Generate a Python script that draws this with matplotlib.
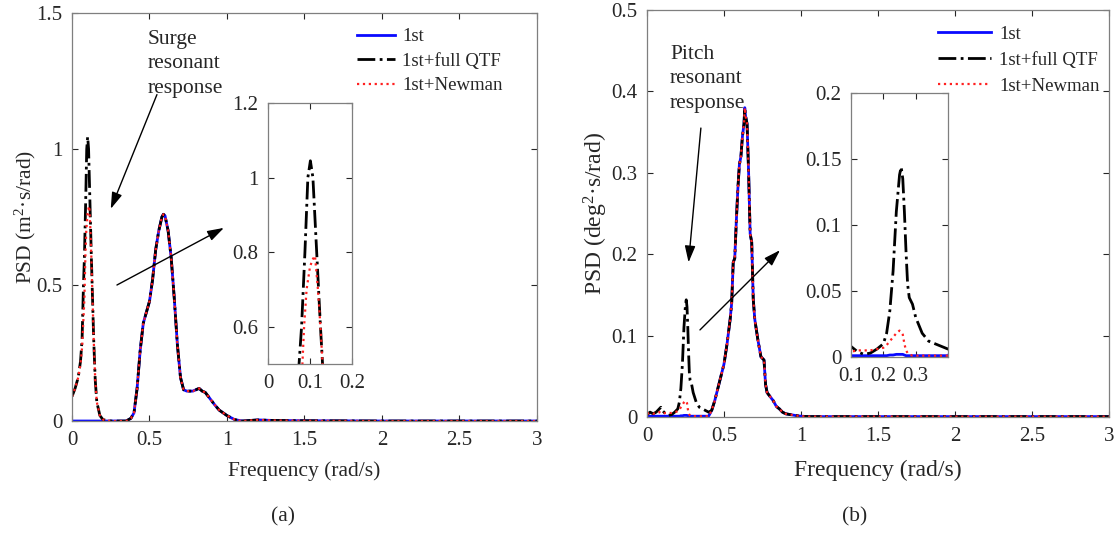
import matplotlib

matplotlib.use("Agg")
import matplotlib.pyplot as plt
import numpy as np

# ---- surge (panel a) ----
surge_low_freq_qtf = [0.0, 0.02, 0.04, 0.055, 0.065, 0.074, 0.08, 0.088, 0.095, 0.101,
                      0.107, 0.116, 0.125, 0.13, 0.14, 0.15, 0.16, 0.18, 0.20, 0.25]
surge_low_qtf = [0.09, 0.12, 0.16, 0.22, 0.30, 0.50, 0.60, 0.80, 1.00, 1.045,
                 1.00, 0.80, 0.60, 0.50, 0.30, 0.15, 0.07, 0.02, 0.005, 0.0]
surge_low_freq_newman = [0.0, 0.02, 0.04, 0.055, 0.065, 0.08, 0.086, 0.092, 0.10, 0.106,
                         0.112, 0.119, 0.125, 0.13, 0.14, 0.15, 0.16, 0.18, 0.20, 0.25]
surge_low_newman = [0.09, 0.12, 0.16, 0.21, 0.27, 0.45, 0.60, 0.70, 0.76, 0.78,
                    0.79, 0.70, 0.60, 0.50, 0.30, 0.15, 0.07, 0.02, 0.005, 0.0]
surge_low_freq_first = [0.0, 0.25]
surge_low_first = [0.0, 0.0]
surge_wave_freq = [0.30, 0.35, 0.38, 0.40, 0.42, 0.44, 0.46, 0.48, 0.50, 0.52, 0.54, 0.56,
                   0.58, 0.59, 0.60, 0.62, 0.64, 0.66, 0.68, 0.70, 0.72, 0.74, 0.76, 0.78,
                   0.80, 0.82, 0.84, 0.86, 0.88, 0.90, 0.92, 0.95, 1.00, 1.05, 1.10, 1.20,
                   1.30, 1.50, 2.00, 2.50, 3.00]
surge_wave_psd = [0.0, 0.0, 0.01, 0.03, 0.12, 0.26, 0.36, 0.40, 0.44, 0.52, 0.63, 0.70,
                  0.75, 0.76, 0.755, 0.70, 0.60, 0.45, 0.28, 0.16, 0.115, 0.11, 0.11, 0.11,
                  0.115, 0.12, 0.11, 0.105, 0.09, 0.075, 0.06, 0.04, 0.02, 0.005, 0.0, 0.004,
                  0.002, 0.001, 0.0, 0.0, 0.0]

# ---- pitch (panel b) ----
pitch_low_freq = [0.0, 0.02, 0.04, 0.06, 0.08, 0.09, 0.10, 0.12, 0.14, 0.16, 0.18, 0.20,
                  0.21, 0.22, 0.23, 0.24, 0.25, 0.255, 0.26, 0.265, 0.27, 0.275, 0.28, 0.29,
                  0.30, 0.32, 0.34, 0.36, 0.38, 0.40]
pitch_low_qtf = [0.003, 0.006, 0.004, 0.006, 0.010, 0.012, 0.008, 0.004, 0.002, 0.003,
                 0.006, 0.010, 0.018, 0.035, 0.065, 0.110, 0.138, 0.144, 0.135, 0.110,
                 0.080, 0.055, 0.045, 0.040, 0.030, 0.018, 0.012, 0.010, 0.008, 0.006]
pitch_low_newman = [0.004, 0.005, 0.004, 0.005, 0.006, 0.005, 0.004, 0.005, 0.005, 0.005,
                    0.006, 0.007, 0.009, 0.012, 0.015, 0.018, 0.020, 0.019, 0.017, 0.010,
                    0.005, 0.003, 0.002, 0.001, 0.001, 0.001, 0.001, 0.001, 0.001, 0.001]
pitch_low_first = [0.001, 0.001, 0.001, 0.001, 0.001, 0.001, 0.001, 0.001, 0.001, 0.001,
                   0.001, 0.001, 0.001, 0.0015, 0.0015, 0.002, 0.002, 0.002, 0.002, 0.0015,
                   0.001, 0.001, 0.001, 0.001, 0.001, 0.001, 0.001, 0.001, 0.001, 0.001]
pitch_wave_freq = [0.42, 0.44, 0.46, 0.48, 0.50, 0.52, 0.54, 0.55, 0.56, 0.57, 0.58, 0.59,
                   0.60, 0.61, 0.62, 0.63, 0.635, 0.64, 0.65, 0.66, 0.67, 0.68, 0.69, 0.70,
                   0.72, 0.74, 0.76, 0.77, 0.78, 0.80, 0.82, 0.84, 0.86, 0.88, 0.90, 0.93,
                   0.96, 1.00, 1.05, 1.50, 2.00, 2.50, 3.00]
pitch_wave_psd = [0.008, 0.02, 0.035, 0.05, 0.065, 0.09, 0.12, 0.14, 0.19, 0.195, 0.24,
                  0.28, 0.31, 0.32, 0.345, 0.36, 0.38, 0.37, 0.36, 0.30, 0.225, 0.215, 0.145,
                  0.12, 0.095, 0.074, 0.07, 0.04, 0.03, 0.025, 0.02, 0.013, 0.01, 0.006,
                  0.004, 0.003, 0.002, 0.001, 0.0005, 0.0005, 0.0005, 0.0005, 0.0005]

LABELS = ["1st", "1st+full QTF", "1st+Newman"]
TEXT = "#262626"
SPINE = "#7f7f7f"
ARROW = dict(arrowstyle="-|>,head_length=1.0,head_width=0.32", lw=1.0,
             color="black", shrinkA=0, shrinkB=0)

plt.rcParams.update({
    "font.family": "serif",
    "font.serif": ["Liberation Serif", "DejaVu Serif"],
    "mathtext.fontset": "custom",
    "mathtext.rm": "Liberation Serif",
    "mathtext.it": "Liberation Serif:italic",
    "text.color": TEXT,
    "axes.labelcolor": TEXT,
    "xtick.color": TEXT,
    "ytick.color": TEXT,
    "axes.edgecolor": SPINE,
    "xtick.direction": "in",
    "ytick.direction": "in",
    "xtick.top": True,
    "ytick.right": True,
    "xtick.major.size": 4,
    "ytick.major.size": 4,
    "xtick.major.width": 0.8,
    "ytick.major.width": 0.8,
    "xtick.major.pad": 7,
    "ytick.major.pad": 7,
})


def series(low_f, low_v, wave_f, wave_v):
    return np.concatenate([low_f, wave_f]), np.concatenate([low_v, wave_v])


def draw_lines(ax, data):
    (f1, v1), (f2, v2), (f3, v3) = data
    ax.plot(f1, v1, color="#0a0aff", lw=2.0, ls="-", label=LABELS[0])
    ax.plot(f2, v2, color="black", lw=2.0, ls="-.", label=LABELS[1])
    ax.plot(f3, v3, color="#ff2020", lw=1.6, ls=":", label=LABELS[2])


def style_ticks(ax, xt, yt, fs):
    ax.set_xticks(xt)
    ax.set_xticklabels([f"{v:g}" for v in xt], fontsize=fs, color=TEXT)
    ax.set_yticks(yt)
    ax.set_yticklabels([f"{v:g}" for v in yt], fontsize=fs, color=TEXT)
    for s in ax.spines.values():
        s.set_linewidth(0.9)


surge = [
    series(surge_low_freq_first, surge_low_first, surge_wave_freq, surge_wave_psd),
    series(surge_low_freq_qtf, surge_low_qtf, surge_wave_freq, surge_wave_psd),
    series(surge_low_freq_newman, surge_low_newman, surge_wave_freq, surge_wave_psd),
]
pitch = [
    series(pitch_low_freq, pitch_low_first, pitch_wave_freq, pitch_wave_psd),
    series(pitch_low_freq, pitch_low_qtf, pitch_wave_freq, pitch_wave_psd),
    series(pitch_low_freq, pitch_low_newman, pitch_wave_freq, pitch_wave_psd),
]

fig = plt.figure(figsize=(11.18, 5.33), dpi=100)

# panel (a)
ax = fig.add_axes([0.0644, 0.2101, 0.4159, 0.7655])
draw_lines(ax, surge)
ax.set_xlim(0, 3)
ax.set_ylim(0, 1.5)
style_ticks(ax, np.arange(0, 3.01, 0.5), [0, 0.5, 1, 1.5], 15)
ax.set_xlabel("Frequency (rad/s)", fontsize=15.5, labelpad=8)
ax.set_ylabel("PSD (m$^2$·s/rad)", fontsize=15.5, labelpad=-1)
ax.legend(loc="upper left", bbox_to_anchor=(0.613, 0.963), frameon=False, fontsize=13.5,
          handlelength=2.0, handletextpad=0.4, labelspacing=0.39, borderpad=0,
          borderaxespad=0)
ax.text(0.49, 1.437, "Surge\nresonant\nresponse", fontsize=15.5, va="top", ha="left",
        linespacing=1.38)
ax.annotate("", xy=(0.25, 0.78), xytext=(0.548, 1.2), arrowprops=ARROW)
ax.annotate("", xy=(0.98, 0.71), xytext=(0.29, 0.5), arrowprops=ARROW)

ins = fig.add_axes([0.2397, 0.3171, 0.0751, 0.4897])
draw_lines(ins, surge)
ins.set_xlim(0, 0.2)
ins.set_ylim(0.5, 1.2)
style_ticks(ins, [0, 0.1, 0.2], [0.6, 0.8, 1, 1.2], 15)

# panel (b)
bx = fig.add_axes([0.5787, 0.2176, 0.4132, 0.7636])
draw_lines(bx, pitch)
bx.set_xlim(0, 3)
bx.set_ylim(0, 0.5)
style_ticks(bx, np.arange(0, 3.01, 0.5), [0, 0.1, 0.2, 0.3, 0.4, 0.5], 15)
bx.set_xlabel("Frequency (rad/s)", fontsize=17, labelpad=10)
bx.set_ylabel("PSD (deg$^2$·s/rad)", fontsize=17, labelpad=0.5)
bx.legend(loc="upper left", bbox_to_anchor=(0.63, 0.961), frameon=False, fontsize=13.5,
          handlelength=2.8, handletextpad=0.45, labelspacing=0.47, borderpad=0,
          borderaxespad=0)
bx.text(0.15, 0.457, "Pitch\nresonant\nresponse", fontsize=15.5, va="top", ha="left",
        linespacing=1.38)
bx.annotate("", xy=(0.27, 0.19), xytext=(0.35, 0.355), arrowprops=ARROW)
bx.annotate("", xy=(0.864, 0.205), xytext=(0.344, 0.107), arrowprops=ARROW)

ins2 = fig.add_axes([0.7612, 0.3302, 0.0868, 0.4953])
draw_lines(ins2, pitch)
ins2.set_xlim(0.1, 0.4)
ins2.set_ylim(0, 0.2)
style_ticks(ins2, [0.1, 0.2, 0.3], [0, 0.05, 0.1, 0.15, 0.2], 15)

fig.text(0.2531, 0.030, "(a)", fontsize=15.5, ha="center", va="center")
fig.text(0.7648, 0.030, "(b)", fontsize=15.5, ha="center", va="center")

fig.savefig("out.png", dpi=100)
